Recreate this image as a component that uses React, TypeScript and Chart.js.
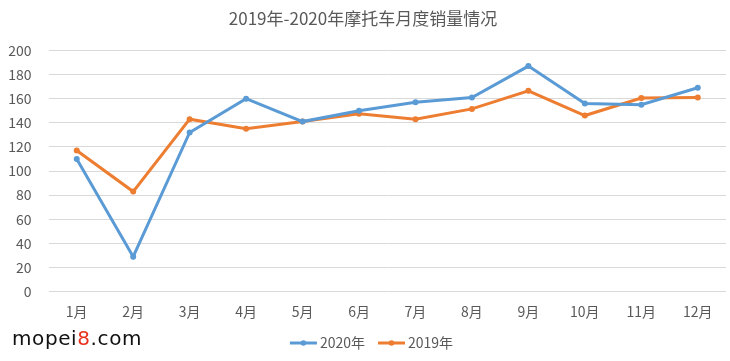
import React, { useEffect, useRef } from "react";
import { Chart, registerables } from "chart.js";

Chart.register(...registerables);

const TITLE = "2019年-2020年摩托车月度销量情况";
const MONTHS = ["1月", "2月", "3月", "4月", "5月", "6月", "7月", "8月", "9月", "10月", "11月", "12月"];
const SERIES_2020_LABEL = "2020年";
const SERIES_2019_LABEL = "2019年";
const SALES_2020 = [110, 29, 132, 160, 141, 150, 157, 161, 187, 156, 155, 169];
const SALES_2019 = [117, 83, 143, 135, 141, 147.5, 143, 151.5, 166.5, 146, 160.5, 161];
const Y_MIN = 0;
const Y_MAX = 200;
const Y_STEP = 20;

const BLUE = "#5B9BD5";
const ORANGE = "#ED7D31";
const TEXT = "#595959";
const FONT = '"Noto Sans CJK SC", "Noto Sans", sans-serif';

const legendPlugin = {
  id: "lineDotLegend",
  afterDraw(chart: any) {
    const ctx = chart.ctx as CanvasRenderingContext2D;
    ctx.save();
    ctx.font = `14px ${FONT}`;
    const lineW = 27;
    const gapText = 3;
    const gapItem = 13;
    const items = chart.data.datasets.map((ds: any) => ({
      label: ds.label,
      color: ds.borderColor,
      w: lineW + gapText + ctx.measureText(ds.label).width,
    }));
    const total = items.reduce((s: number, it: any) => s + it.w, 0) + gapItem * (items.length - 1);
    let x = 371.5 - total / 2;
    const y = 343;
    for (const it of items) {
      ctx.strokeStyle = it.color;
      ctx.lineWidth = 3;
      ctx.beginPath();
      ctx.moveTo(x, y);
      ctx.lineTo(x + lineW, y);
      ctx.stroke();
      ctx.fillStyle = it.color;
      ctx.beginPath();
      ctx.arc(x + lineW / 2, y, 2.8, 0, Math.PI * 2);
      ctx.fill();
      ctx.fillStyle = TEXT;
      ctx.textBaseline = "middle";
      ctx.textAlign = "left";
      ctx.fillText(it.label, x + lineW + gapText, y);
      x += it.w + gapItem;
    }
    ctx.restore();
  },
};

export default function App() {
  const ref = useRef<HTMLCanvasElement | null>(null);

  useEffect(() => {
    document.body.style.margin = "0";
    const canvas = ref.current;
    if (!canvas) return;
    const chart = new Chart(canvas, {
      type: "line",
      data: {
        labels: MONTHS,
        datasets: [
          {
            label: SERIES_2020_LABEL,
            data: SALES_2020,
            borderColor: BLUE,
            backgroundColor: BLUE,
            borderWidth: 3,
            pointRadius: 3,
            pointBorderWidth: 0,
            pointBackgroundColor: BLUE,
            tension: 0,
          },
          {
            label: SERIES_2019_LABEL,
            data: SALES_2019,
            borderColor: ORANGE,
            backgroundColor: ORANGE,
            borderWidth: 3,
            pointRadius: 3,
            pointBorderWidth: 0,
            pointBackgroundColor: ORANGE,
            tension: 0,
          },
        ],
      },
      options: {
        responsive: false,
        animation: false,
        layout: { padding: { left: 0, right: 4, top: 0, bottom: 0 } },
        plugins: {
          legend: { display: false },
          tooltip: { enabled: false },
          title: {
            display: true,
            text: TITLE,
            color: TEXT,
            font: { family: FONT, size: 17, weight: "normal" },
            padding: { top: 8, bottom: 22 },
          },
        },
        scales: {
          x: {
            offset: true,
            grid: { display: false, drawTicks: false },
            border: { display: false },
            ticks: {
              color: TEXT,
              font: { family: FONT, size: 14 },
              padding: 12,
              maxRotation: 0,
              autoSkip: false,
            },
            afterFit(scale: any) {
              scale.height = 69.3;
            },
          },
          y: {
            min: Y_MIN,
            max: Y_MAX,
            grid: { color: "#D9D9D9", lineWidth: 1, drawTicks: false },
            border: { display: false },
            ticks: {
              stepSize: Y_STEP,
              color: TEXT,
              font: { family: FONT, size: 14 },
              padding: 17,
            },
            afterFit(scale: any) {
              scale.width = 48.5;
            },
          },
        },
      },
      plugins: [legendPlugin],
    });
    return () => chart.destroy();
  }, []);

  return (
    <div style={{ position: "fixed", left: 0, top: 0, width: 730, height: 361, background: "#fff" }}>
      <canvas ref={ref} width={730} height={361} style={{ display: "block" }} />
      <div
        style={{
          position: "absolute",
          left: 12,
          top: 325,
          fontFamily: '"DejaVu Sans", sans-serif',
          fontSize: 20,
          letterSpacing: 0.6,
          color: "#111",
          lineHeight: "26px",
          whiteSpace: "nowrap",
        }}
      >
        mopei<span style={{ color: "#E8321E" }}>8</span>.com
      </div>
    </div>
  );
}
